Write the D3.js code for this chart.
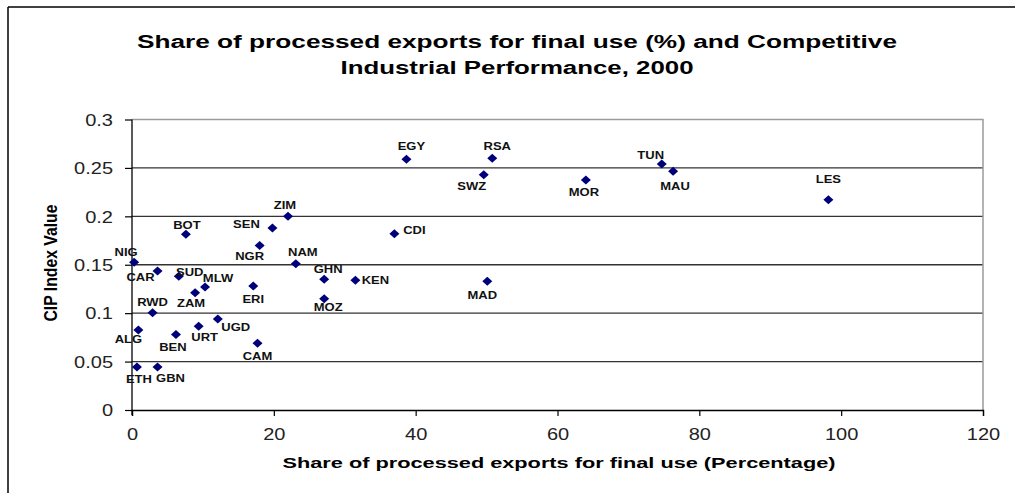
<!DOCTYPE html>
<html><head><meta charset="utf-8">
<script src="https://cdn.jsdelivr.net/npm/d3@7"></script>
<style>body{margin:0;background:#fff}svg{display:block}text{font-family:Arial,"Liberation Sans",sans-serif}</style>
</head><body><svg id="c" width="1015" height="493"></svg>
<script>
const titleLines = ["Share of processed exports for final use (%) and Competitive", "Industrial Performance, 2000"];
const xTitle = "Share of processed exports for final use (Percentage)";
const yTitle = "CIP Index Value";
const codes = ["EGY","RSA","SWZ","MOR","TUN","MAU","LES","CDI","KEN","MAD","GHN","MOZ","NAM","ZIM","SEN","BOT","NGR","NIG","CAR","SUD","MLW","ZAM","ERI","RWD","ALG","URT","UGD","BEN","CAM","ETH","GBN"];
const exportShare = [38.7,50.8,49.6,64.0,74.7,76.3,98.2,37.0,31.5,50.1,27.1,27.1,23.1,22.0,19.8,7.6,18.0,0.3,3.6,6.6,10.3,8.9,17.1,2.9,0.9,9.4,12.1,6.2,17.7,0.7,3.6];
const cipIndex = [0.259,0.260,0.243,0.2375,0.254,0.2465,0.217,0.182,0.134,0.133,0.135,0.115,0.151,0.200,0.188,0.1815,0.170,0.1525,0.1435,0.138,0.127,0.121,0.128,0.1005,0.0825,0.0865,0.094,0.078,0.069,0.0445,0.0445];
const xTicks = [0,20,40,60,80,100,120];
const yTicks = [0,0.05,0.1,0.15,0.2,0.25,0.3];
const yTickLabels = ["0","0.05","0.1","0.15","0.2","0.25","0.3"];
// label placement (layout, relative to marker)
const labelDx = [5,5,-12,-2,-11,2,0,20,20,-5,4,4,7,-3,-26,1,-10,-8,-17,11,13,-4,0,0,-10,6,18,-3,0,2,13];
const labelDy = [-13,-12,12,12,-9,15,-20,-3,0,14,-10,9,-11,-11,-4,-9,11,-10,6,-4,-9,11,13,-10,9,11,8,13,13,12,11];

const svg = d3.select("#c");
const K = 1.25; // horizontal stretch of the reference rendering
function stretch(sel, k) {
  sel.each(function(){ const L = this.getComputedTextLength(); d3.select(this).attr("textLength", L*k).attr("lengthAdjust","spacingAndGlyphs"); });
}

// outer frame
svg.append("line").attr("x1",8).attr("x2",1015).attr("y1",7).attr("y2",7).attr("stroke","#000").attr("stroke-width",1.5);
svg.append("line").attr("x1",8).attr("x2",8).attr("y1",7).attr("y2",493).attr("stroke","#000").attr("stroke-width",1.5);

const x = d3.scaleLinear().domain([0,120]).range([132,983]);
const y = d3.scaleLinear().domain([0,0.3]).range([410,119.5]);

// gridlines
svg.append("g").selectAll("line").data(yTicks.filter(v=>v>0 && v<0.3)).join("line")
  .attr("x1",132).attr("x2",983).attr("y1",d=>y(d)).attr("y2",d=>y(d)).attr("stroke","#333").attr("stroke-width",1.3);
// plot border top/right
svg.append("path").attr("d",`M132,${y(0.3)}H983V${y(0)}`).attr("fill","none").attr("stroke","#9a9a9a").attr("stroke-width",1.5);

// axes
const xAxis = svg.append("g").attr("transform",`translate(0,${y(0)})`)
  .call(d3.axisBottom(x).tickValues(xTicks).tickSize(6).tickFormat(d3.format("d")));
const yAxis = svg.append("g").attr("transform",`translate(${x(0)},0)`)
  .call(d3.axisLeft(y).tickValues(yTicks).tickSize(7).tickFormat((d,i)=>yTickLabels[i]));
[xAxis,yAxis].forEach(a=>{
  a.select(".domain").attr("stroke","#000").attr("stroke-width",1.3);
  a.selectAll(".tick line").attr("stroke","#000").attr("stroke-width",1.2);
  a.selectAll("text").attr("font-size",16).attr("fill","#222").attr("font-family","Arial, 'Liberation Sans', sans-serif");
});
yAxis.select(".domain").attr("d",`M0,${y(0.3)}V${y(0)+5}`);
xAxis.selectAll("text").attr("dy",null).attr("y",30);
yAxis.selectAll("text").attr("x",-19).attr("dy","0.36em");
stretch(xAxis.selectAll("text"), K);
stretch(yAxis.selectAll("text"), K);

// titles
svg.append("g").selectAll("text").data(titleLines).join("text")
  .attr("x",517).attr("y",(d,i)=>48+i*26).attr("text-anchor","middle")
  .attr("font-size",18).attr("font-weight","bold").attr("fill","#000").text(d=>d)
  .attr("textLength",(d,i)=>i===0?760:353).attr("lengthAdjust","spacingAndGlyphs");
svg.append("text").attr("x",559).attr("y",468).attr("text-anchor","middle")
  .attr("font-size",15).attr("font-weight","bold").text(xTitle)
  .attr("textLength",553).attr("lengthAdjust","spacingAndGlyphs");
svg.append("text").attr("transform","translate(57,263) rotate(-90)").attr("text-anchor","middle")
  .attr("font-size",18).attr("font-weight","bold").text(yTitle)
  .attr("textLength",117).attr("lengthAdjust","spacingAndGlyphs");

// points
const pts = codes.map((c,i)=>({c, x:exportShare[i], y:cipIndex[i], dx:labelDx[i], dy:labelDy[i]}));
const diamond = {draw(ctx,size){ const w=5, h=4.5; ctx.moveTo(0,-h); ctx.lineTo(w,0); ctx.lineTo(0,h); ctx.lineTo(-w,0); ctx.closePath(); }};
svg.append("g").selectAll("path").data(pts).join("path")
  .attr("transform",d=>`translate(${x(d.x)},${y(d.y)})`)
  .attr("d",d3.symbol().type(diamond)).attr("fill","#00007a");
const labels = svg.append("g").selectAll("text").data(pts).join("text")
  .attr("x",d=>x(d.x)+d.dx).attr("y",d=>y(d.y)+d.dy+3.6).attr("text-anchor","middle")
  .attr("font-size",10).attr("font-weight","bold").attr("fill","#111").text(d=>d.c);
stretch(labels, 1.3);
</script></body></html>
